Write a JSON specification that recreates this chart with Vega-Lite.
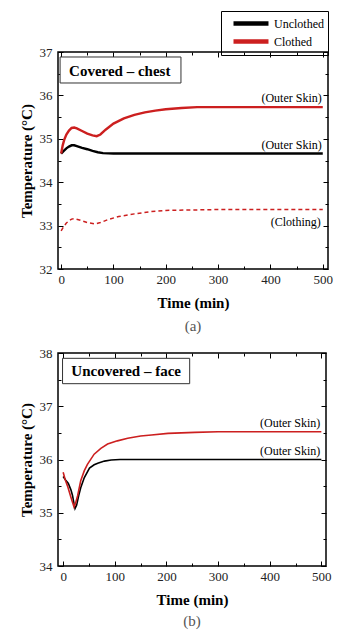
{
  "$schema": "https://vega.github.io/schema/vega-lite/v6.json",
  "background": "white",
  "padding": {"left": 18, "top": 9, "right": 0, "bottom": 0},
  "config": {
    "font": "Liberation Serif, Times New Roman, serif",
    "view": {"stroke": "black", "strokeWidth": 1.5},
    "axis": {
      "grid": false,
      "domain": false,
      "tickColor": "black",
      "tickWidth": 1,
      "labelFont": "Liberation Serif, Times New Roman, serif",
      "labelFontSize": 13,
      "labelColor": "#222",
      "titleFont": "Liberation Serif, Times New Roman, serif",
      "titleFontSize": 15,
      "titleFontWeight": "bold",
      "titleColor": "black"
    },
    "legend": {"labelFont": "Liberation Serif, Times New Roman, serif"},
    "text": {"font": "Liberation Serif, Times New Roman, serif"},
    "title": {"font": "Liberation Serif, Times New Roman, serif", "fontSize": 15, "fontWeight": "normal", "color": "#555", "orient": "bottom", "anchor": "middle"}
  },
  "datasets": {
    "a": [
      {"t": 0, "T": 34.66, "group": "Unclothed", "part": "(Outer Skin)"},
      {"t": 5, "T": 34.72, "group": "Unclothed", "part": "(Outer Skin)"},
      {"t": 10, "T": 34.78, "group": "Unclothed", "part": "(Outer Skin)"},
      {"t": 15, "T": 34.82, "group": "Unclothed", "part": "(Outer Skin)"},
      {"t": 20, "T": 34.85, "group": "Unclothed", "part": "(Outer Skin)"},
      {"t": 25, "T": 34.85, "group": "Unclothed", "part": "(Outer Skin)"},
      {"t": 30, "T": 34.83, "group": "Unclothed", "part": "(Outer Skin)"},
      {"t": 40, "T": 34.79, "group": "Unclothed", "part": "(Outer Skin)"},
      {"t": 50, "T": 34.76, "group": "Unclothed", "part": "(Outer Skin)"},
      {"t": 60, "T": 34.72, "group": "Unclothed", "part": "(Outer Skin)"},
      {"t": 70, "T": 34.69, "group": "Unclothed", "part": "(Outer Skin)"},
      {"t": 80, "T": 34.67, "group": "Unclothed", "part": "(Outer Skin)"},
      {"t": 100, "T": 34.66, "group": "Unclothed", "part": "(Outer Skin)"},
      {"t": 150, "T": 34.66, "group": "Unclothed", "part": "(Outer Skin)"},
      {"t": 200, "T": 34.66, "group": "Unclothed", "part": "(Outer Skin)"},
      {"t": 300, "T": 34.66, "group": "Unclothed", "part": "(Outer Skin)"},
      {"t": 400, "T": 34.66, "group": "Unclothed", "part": "(Outer Skin)"},
      {"t": 500, "T": 34.66, "group": "Unclothed", "part": "(Outer Skin)"},
      {"t": 0, "T": 34.66, "group": "Clothed", "part": "(Outer Skin)"},
      {"t": 3, "T": 34.85, "group": "Clothed", "part": "(Outer Skin)"},
      {"t": 6, "T": 34.98, "group": "Clothed", "part": "(Outer Skin)"},
      {"t": 10, "T": 35.1, "group": "Clothed", "part": "(Outer Skin)"},
      {"t": 15, "T": 35.19, "group": "Clothed", "part": "(Outer Skin)"},
      {"t": 20, "T": 35.25, "group": "Clothed", "part": "(Outer Skin)"},
      {"t": 25, "T": 35.26, "group": "Clothed", "part": "(Outer Skin)"},
      {"t": 30, "T": 35.24, "group": "Clothed", "part": "(Outer Skin)"},
      {"t": 40, "T": 35.18, "group": "Clothed", "part": "(Outer Skin)"},
      {"t": 50, "T": 35.12, "group": "Clothed", "part": "(Outer Skin)"},
      {"t": 60, "T": 35.08, "group": "Clothed", "part": "(Outer Skin)"},
      {"t": 68, "T": 35.06, "group": "Clothed", "part": "(Outer Skin)"},
      {"t": 75, "T": 35.1, "group": "Clothed", "part": "(Outer Skin)"},
      {"t": 85, "T": 35.21, "group": "Clothed", "part": "(Outer Skin)"},
      {"t": 100, "T": 35.35, "group": "Clothed", "part": "(Outer Skin)"},
      {"t": 120, "T": 35.47, "group": "Clothed", "part": "(Outer Skin)"},
      {"t": 140, "T": 35.55, "group": "Clothed", "part": "(Outer Skin)"},
      {"t": 160, "T": 35.61, "group": "Clothed", "part": "(Outer Skin)"},
      {"t": 180, "T": 35.65, "group": "Clothed", "part": "(Outer Skin)"},
      {"t": 200, "T": 35.68, "group": "Clothed", "part": "(Outer Skin)"},
      {"t": 230, "T": 35.71, "group": "Clothed", "part": "(Outer Skin)"},
      {"t": 260, "T": 35.73, "group": "Clothed", "part": "(Outer Skin)"},
      {"t": 300, "T": 35.73, "group": "Clothed", "part": "(Outer Skin)"},
      {"t": 400, "T": 35.73, "group": "Clothed", "part": "(Outer Skin)"},
      {"t": 500, "T": 35.73, "group": "Clothed", "part": "(Outer Skin)"},
      {"t": 0, "T": 32.88, "group": "Clothed", "part": "(Clothing)"},
      {"t": 5, "T": 32.98, "group": "Clothed", "part": "(Clothing)"},
      {"t": 10, "T": 33.06, "group": "Clothed", "part": "(Clothing)"},
      {"t": 15, "T": 33.11, "group": "Clothed", "part": "(Clothing)"},
      {"t": 20, "T": 33.15, "group": "Clothed", "part": "(Clothing)"},
      {"t": 25, "T": 33.16, "group": "Clothed", "part": "(Clothing)"},
      {"t": 35, "T": 33.13, "group": "Clothed", "part": "(Clothing)"},
      {"t": 50, "T": 33.07, "group": "Clothed", "part": "(Clothing)"},
      {"t": 65, "T": 33.04, "group": "Clothed", "part": "(Clothing)"},
      {"t": 75, "T": 33.07, "group": "Clothed", "part": "(Clothing)"},
      {"t": 90, "T": 33.14, "group": "Clothed", "part": "(Clothing)"},
      {"t": 110, "T": 33.21, "group": "Clothed", "part": "(Clothing)"},
      {"t": 140, "T": 33.27, "group": "Clothed", "part": "(Clothing)"},
      {"t": 170, "T": 33.32, "group": "Clothed", "part": "(Clothing)"},
      {"t": 200, "T": 33.35, "group": "Clothed", "part": "(Clothing)"},
      {"t": 250, "T": 33.36, "group": "Clothed", "part": "(Clothing)"},
      {"t": 300, "T": 33.37, "group": "Clothed", "part": "(Clothing)"},
      {"t": 400, "T": 33.37, "group": "Clothed", "part": "(Clothing)"},
      {"t": 500, "T": 33.37, "group": "Clothed", "part": "(Clothing)"}
    ],
    "b": [
      {"t": 0, "T": 35.68, "group": "Unclothed", "part": "(Outer Skin)"},
      {"t": 5, "T": 35.61, "group": "Unclothed", "part": "(Outer Skin)"},
      {"t": 10, "T": 35.55, "group": "Unclothed", "part": "(Outer Skin)"},
      {"t": 15, "T": 35.43, "group": "Unclothed", "part": "(Outer Skin)"},
      {"t": 18, "T": 35.33, "group": "Unclothed", "part": "(Outer Skin)"},
      {"t": 21, "T": 35.17, "group": "Unclothed", "part": "(Outer Skin)"},
      {"t": 23, "T": 35.08, "group": "Unclothed", "part": "(Outer Skin)"},
      {"t": 26, "T": 35.14, "group": "Unclothed", "part": "(Outer Skin)"},
      {"t": 30, "T": 35.32, "group": "Unclothed", "part": "(Outer Skin)"},
      {"t": 34, "T": 35.47, "group": "Unclothed", "part": "(Outer Skin)"},
      {"t": 41, "T": 35.66, "group": "Unclothed", "part": "(Outer Skin)"},
      {"t": 51, "T": 35.84, "group": "Unclothed", "part": "(Outer Skin)"},
      {"t": 60, "T": 35.9, "group": "Unclothed", "part": "(Outer Skin)"},
      {"t": 67, "T": 35.93, "group": "Unclothed", "part": "(Outer Skin)"},
      {"t": 80, "T": 35.97, "group": "Unclothed", "part": "(Outer Skin)"},
      {"t": 93, "T": 35.99, "group": "Unclothed", "part": "(Outer Skin)"},
      {"t": 110, "T": 36.0, "group": "Unclothed", "part": "(Outer Skin)"},
      {"t": 200, "T": 36.0, "group": "Unclothed", "part": "(Outer Skin)"},
      {"t": 300, "T": 36.0, "group": "Unclothed", "part": "(Outer Skin)"},
      {"t": 400, "T": 36.0, "group": "Unclothed", "part": "(Outer Skin)"},
      {"t": 500, "T": 36.0, "group": "Unclothed", "part": "(Outer Skin)"},
      {"t": 0, "T": 35.76, "group": "Clothed", "part": "(Outer Skin)"},
      {"t": 4, "T": 35.62, "group": "Clothed", "part": "(Outer Skin)"},
      {"t": 8.5, "T": 35.5, "group": "Clothed", "part": "(Outer Skin)"},
      {"t": 15, "T": 35.29, "group": "Clothed", "part": "(Outer Skin)"},
      {"t": 21, "T": 35.11, "group": "Clothed", "part": "(Outer Skin)"},
      {"t": 24, "T": 35.18, "group": "Clothed", "part": "(Outer Skin)"},
      {"t": 28, "T": 35.32, "group": "Clothed", "part": "(Outer Skin)"},
      {"t": 34, "T": 35.6, "group": "Clothed", "part": "(Outer Skin)"},
      {"t": 41, "T": 35.79, "group": "Clothed", "part": "(Outer Skin)"},
      {"t": 47, "T": 35.91, "group": "Clothed", "part": "(Outer Skin)"},
      {"t": 60, "T": 36.1, "group": "Clothed", "part": "(Outer Skin)"},
      {"t": 73, "T": 36.21, "group": "Clothed", "part": "(Outer Skin)"},
      {"t": 86, "T": 36.29, "group": "Clothed", "part": "(Outer Skin)"},
      {"t": 105, "T": 36.35, "group": "Clothed", "part": "(Outer Skin)"},
      {"t": 125, "T": 36.4, "group": "Clothed", "part": "(Outer Skin)"},
      {"t": 150, "T": 36.44, "group": "Clothed", "part": "(Outer Skin)"},
      {"t": 171, "T": 36.46, "group": "Clothed", "part": "(Outer Skin)"},
      {"t": 203, "T": 36.49, "group": "Clothed", "part": "(Outer Skin)"},
      {"t": 255, "T": 36.51, "group": "Clothed", "part": "(Outer Skin)"},
      {"t": 300, "T": 36.52, "group": "Clothed", "part": "(Outer Skin)"},
      {"t": 400, "T": 36.52, "group": "Clothed", "part": "(Outer Skin)"},
      {"t": 500, "T": 36.52, "group": "Clothed", "part": "(Outer Skin)"}
    ]
  },
  "vconcat": [
    {
      "width": 270,
      "height": 217,
      "title": {"text": "(a)", "offset": 9},
      "data": {"name": "a"},
      "resolve": {"axis": {"x": "independent", "y": "independent"}},
      "layer": [
        {
          "transform": [{"filter": "datum.part === '(Outer Skin)'"}],
          "mark": {"type": "line", "strokeWidth": 2.4},
          "encoding": {
            "x": {"field": "t", "type": "quantitative", "scale": {"domain": [-6, 510], "nice": false, "zero": false},
              "axis": {"orient": "bottom", "title": "Time (min)", "values": [0, 50, 100, 150, 200, 250, 300, 350, 400, 450, 500],
                "labelExpr": "datum.value % 100 === 0 ? format(datum.value, 'd') : ''", "labelFlush": false,
                "tickSize": {"condition": {"test": "datum.value % 100 === 0", "value": -5}, "value": -3},
                "labelPadding": 9, "titlePadding": 9}},
            "y": {"field": "T", "type": "quantitative", "scale": {"domain": [32, 37], "nice": false, "zero": false},
              "axis": {"orient": "left", "title": "Temperature (\u00b0C)", "values": [32, 32.5, 33, 33.5, 34, 34.5, 35, 35.5, 36, 36.5, 37],
                "labelExpr": "datum.value % 1 === 0 ? format(datum.value, 'd') : ''", "labelFlush": false,
                "tickSize": {"condition": {"test": "datum.value % 1 === 0", "value": -5}, "value": -3},
                "labelPadding": 11, "titlePadding": 5}},
            "color": {"field": "group", "type": "nominal",
              "scale": {"domain": ["Unclothed", "Clothed"], "range": ["#000000", "#cc1f1f"]},
              "legend": {"orient": "none", "legendX": 163, "legendY": -41, "title": null, "direction": "vertical",
                "strokeColor": "black", "padding": 4, "symbolType": "M0,0H6", "symbolSize": 136, "symbolStrokeWidth": 4.5,
                "labelFontSize": 12, "labelColor": "black", "labelOffset": 32, "rowPadding": -7}},
            "detail": {"field": "part"}
          }
        },
        {
          "transform": [{"filter": "datum.part === '(Clothing)'"}],
          "mark": {"type": "line", "strokeWidth": 1.5, "strokeDash": [4, 3]},
          "encoding": {
            "x": {"field": "t", "type": "quantitative", "scale": {"domain": [-6, 510], "nice": false, "zero": false},
              "axis": {"orient": "top", "title": null, "labels": false, "values": [0, 50, 100, 150, 200, 250, 300, 350, 400, 450, 500],
                "tickSize": {"condition": {"test": "datum.value % 100 === 0", "value": -5}, "value": -3}}},
            "y": {"field": "T", "type": "quantitative", "scale": {"domain": [32, 37], "nice": false, "zero": false},
              "axis": {"orient": "right", "title": null, "labels": false, "values": [32, 32.5, 33, 33.5, 34, 34.5, 35, 35.5, 36, 36.5, 37],
                "tickSize": {"condition": {"test": "datum.value % 1 === 0", "value": -5}, "value": -3}}},
            "color": {"field": "group", "type": "nominal", "legend": null}
          }
        },
        {
          "transform": [{"filter": "datum.t === 500 && datum.part === '(Outer Skin)'"}],
          "mark": {"type": "text", "align": "right", "baseline": "middle", "fontSize": 12, "color": "black", "dx": -1, "dy": -9},
          "encoding": {
            "x": {"field": "t", "type": "quantitative", "axis": null},
            "y": {"field": "T", "type": "quantitative", "axis": null},
            "text": {"field": "part"}
          }
        },
        {
          "transform": [{"filter": "datum.t === 500 && datum.part === '(Clothing)'"}],
          "mark": {"type": "text", "align": "right", "baseline": "middle", "fontSize": 12, "color": "black", "dx": -2, "dy": 12},
          "encoding": {
            "x": {"field": "t", "type": "quantitative", "axis": null},
            "y": {"field": "T", "type": "quantitative", "axis": null},
            "text": {"field": "part"}
          }
        },
        {
          "data": {"values": [{"label": "Covered \u2013 chest"}]},
          "mark": {"type": "rect", "fill": "white", "stroke": "#333", "strokeWidth": 1},
          "encoding": {
            "x": {"datum": -2, "type": "quantitative", "axis": null},
            "x2": {"datum": 229},
            "y": {"datum": 36.885, "type": "quantitative", "axis": null},
            "y2": {"datum": 36.286}
          }
        },
        {
          "data": {"values": [{"label": "Covered \u2013 chest"}]},
          "mark": {"type": "text", "fontSize": 15, "fontWeight": "bold", "color": "black", "baseline": "middle"},
          "encoding": {
            "x": {"datum": 112, "type": "quantitative", "axis": null},
            "y": {"datum": 36.56, "type": "quantitative", "axis": null},
            "text": {"field": "label"}
          }
        }
      ]
    },
    {
      "width": 268,
      "height": 213,
      "title": {"text": "(b)", "offset": 7},
      "data": {"name": "b"},
      "resolve": {"axis": {"x": "independent", "y": "independent"}},
      "layer": [
        {
          "transform": [{"filter": "datum.group === 'Unclothed'"}],
          "mark": {"type": "line", "strokeWidth": 1.6, "color": "#000000"},
          "encoding": {
            "x": {"field": "t", "type": "quantitative", "scale": {"domain": [-10, 509], "nice": false, "zero": false},
              "axis": {"orient": "bottom", "title": "Time (min)", "values": [0, 50, 100, 150, 200, 250, 300, 350, 400, 450, 500],
                "labelExpr": "datum.value % 100 === 0 ? format(datum.value, 'd') : ''", "labelFlush": false,
                "tickSize": {"condition": {"test": "datum.value % 100 === 0", "value": -5}, "value": -3},
                "labelPadding": 9, "titlePadding": 9}},
            "y": {"field": "T", "type": "quantitative", "scale": {"domain": [34, 38], "nice": false, "zero": false},
              "axis": {"orient": "left", "title": "Temperature (\u00b0C)", "values": [34, 34.5, 35, 35.5, 36, 36.5, 37, 37.5, 38],
                "labelExpr": "datum.value % 1 === 0 ? format(datum.value, 'd') : ''", "labelFlush": false,
                "tickSize": {"condition": {"test": "datum.value % 1 === 0", "value": -5}, "value": -3},
                "labelPadding": 11, "titlePadding": 5}}
          }
        },
        {
          "transform": [{"filter": "datum.group === 'Clothed'"}],
          "mark": {"type": "line", "strokeWidth": 1.6, "color": "#cc1f1f"},
          "encoding": {
            "x": {"field": "t", "type": "quantitative", "scale": {"domain": [-10, 509], "nice": false, "zero": false},
              "axis": {"orient": "top", "title": null, "labels": false, "values": [0, 50, 100, 150, 200, 250, 300, 350, 400, 450, 500],
                "tickSize": {"condition": {"test": "datum.value % 100 === 0", "value": -5}, "value": -3}}},
            "y": {"field": "T", "type": "quantitative", "scale": {"domain": [34, 38], "nice": false, "zero": false},
              "axis": {"orient": "right", "title": null, "labels": false, "values": [34, 34.5, 35, 35.5, 36, 36.5, 37, 37.5, 38],
                "tickSize": {"condition": {"test": "datum.value % 1 === 0", "value": -5}, "value": -3}}}
          }
        },
        {
          "transform": [{"filter": "datum.t === 500"}],
          "mark": {"type": "text", "align": "right", "baseline": "middle", "fontSize": 12, "color": "black", "dx": -1, "dy": -9},
          "encoding": {
            "x": {"field": "t", "type": "quantitative", "axis": null},
            "y": {"field": "T", "type": "quantitative", "axis": null},
            "text": {"field": "part"}
          }
        },
        {
          "data": {"values": [{"label": "Uncovered \u2013 face"}]},
          "mark": {"type": "rect", "fill": "white", "stroke": "#333", "strokeWidth": 1},
          "encoding": {
            "x": {"datum": -1.2, "type": "quantitative", "axis": null},
            "x2": {"datum": 245},
            "y": {"datum": 37.9, "type": "quantitative", "axis": null},
            "y2": {"datum": 37.424}
          }
        },
        {
          "data": {"values": [{"label": "Uncovered \u2013 face"}]},
          "mark": {"type": "text", "fontSize": 15, "fontWeight": "bold", "color": "black", "baseline": "middle"},
          "encoding": {
            "x": {"datum": 122, "type": "quantitative", "axis": null},
            "y": {"datum": 37.66, "type": "quantitative", "axis": null},
            "text": {"field": "label"}
          }
        }
      ]
    }
  ],
  "spacing": 11,
  "resolve": {"scale": {"color": "independent"}, "legend": {"color": "independent"}}
}
